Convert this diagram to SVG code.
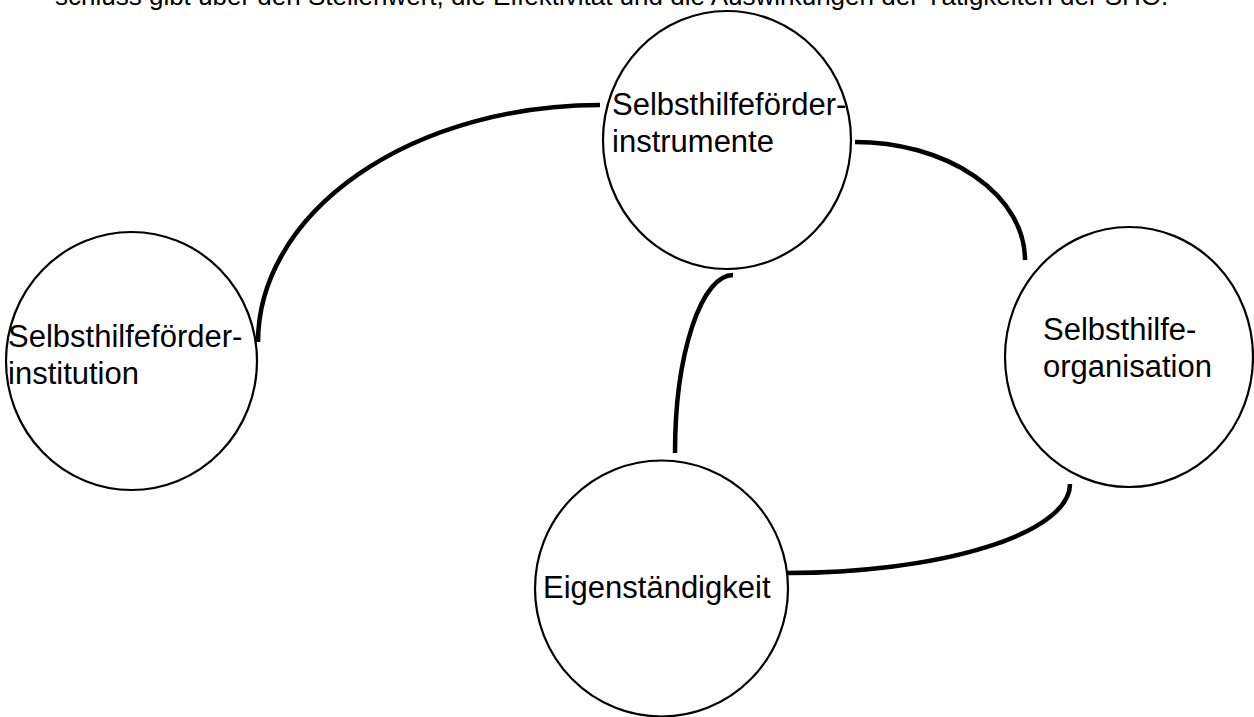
<svg xmlns="http://www.w3.org/2000/svg" width="1254" height="717" viewBox="0 0 1254 717">
<style>
.node{fill:#fff;stroke:#000;stroke-width:2.2}
.lbl{font-family:"Liberation Sans",Arial,Helvetica,sans-serif;font-size:31px;fill:#000}
.hdr{font-family:"Liberation Sans",Arial,Helvetica,sans-serif;font-size:26px;fill:#000}
.conn{fill:none;stroke:#000;stroke-width:4.5}
</style>
<rect width="1254" height="717" fill="#fff"/>
<text class="hdr" x="55" y="5">schluss gibt über den Stellenwert, die Effektivität und die Auswirkungen der Tätigkeiten der SHO.</text>
<g id="connectors">
<path class="conn" d="M258,342 A342,237 0 0 1 600,105"/>
<path class="conn" d="M855,142 A170,118 0 0 1 1025,260"/>
<path class="conn" d="M675,453 A58,178 0 0 1 733,275"/>
<path class="conn" d="M1070,484 A283,89 0 0 1 787,573"/>
</g>
<g id="node-instrumente">
<ellipse class="node" cx="727" cy="140" rx="124" ry="129"/>
<text class="lbl" x="612" y="115">Selbsthilfeförder-</text>
<text class="lbl" x="612" y="152">instrumente</text>
</g>
<g id="node-institution">
<ellipse class="node" cx="131.5" cy="361" rx="125.5" ry="129"/>
<text class="lbl" x="8" y="347">Selbsthilfeförder-</text>
<text class="lbl" x="8" y="384">institution</text>
</g>
<g id="node-organisation">
<ellipse class="node" cx="1129" cy="357" rx="124" ry="130"/>
<text class="lbl" x="1043" y="340">Selbsthilfe-</text>
<text class="lbl" x="1043" y="377">organisation</text>
</g>
<g id="node-eigenstaendigkeit">
<ellipse class="node" cx="661.5" cy="588.5" rx="126.5" ry="128"/>
<text class="lbl" x="543" y="598">Eigenständigkeit</text>
</g>
</svg>
